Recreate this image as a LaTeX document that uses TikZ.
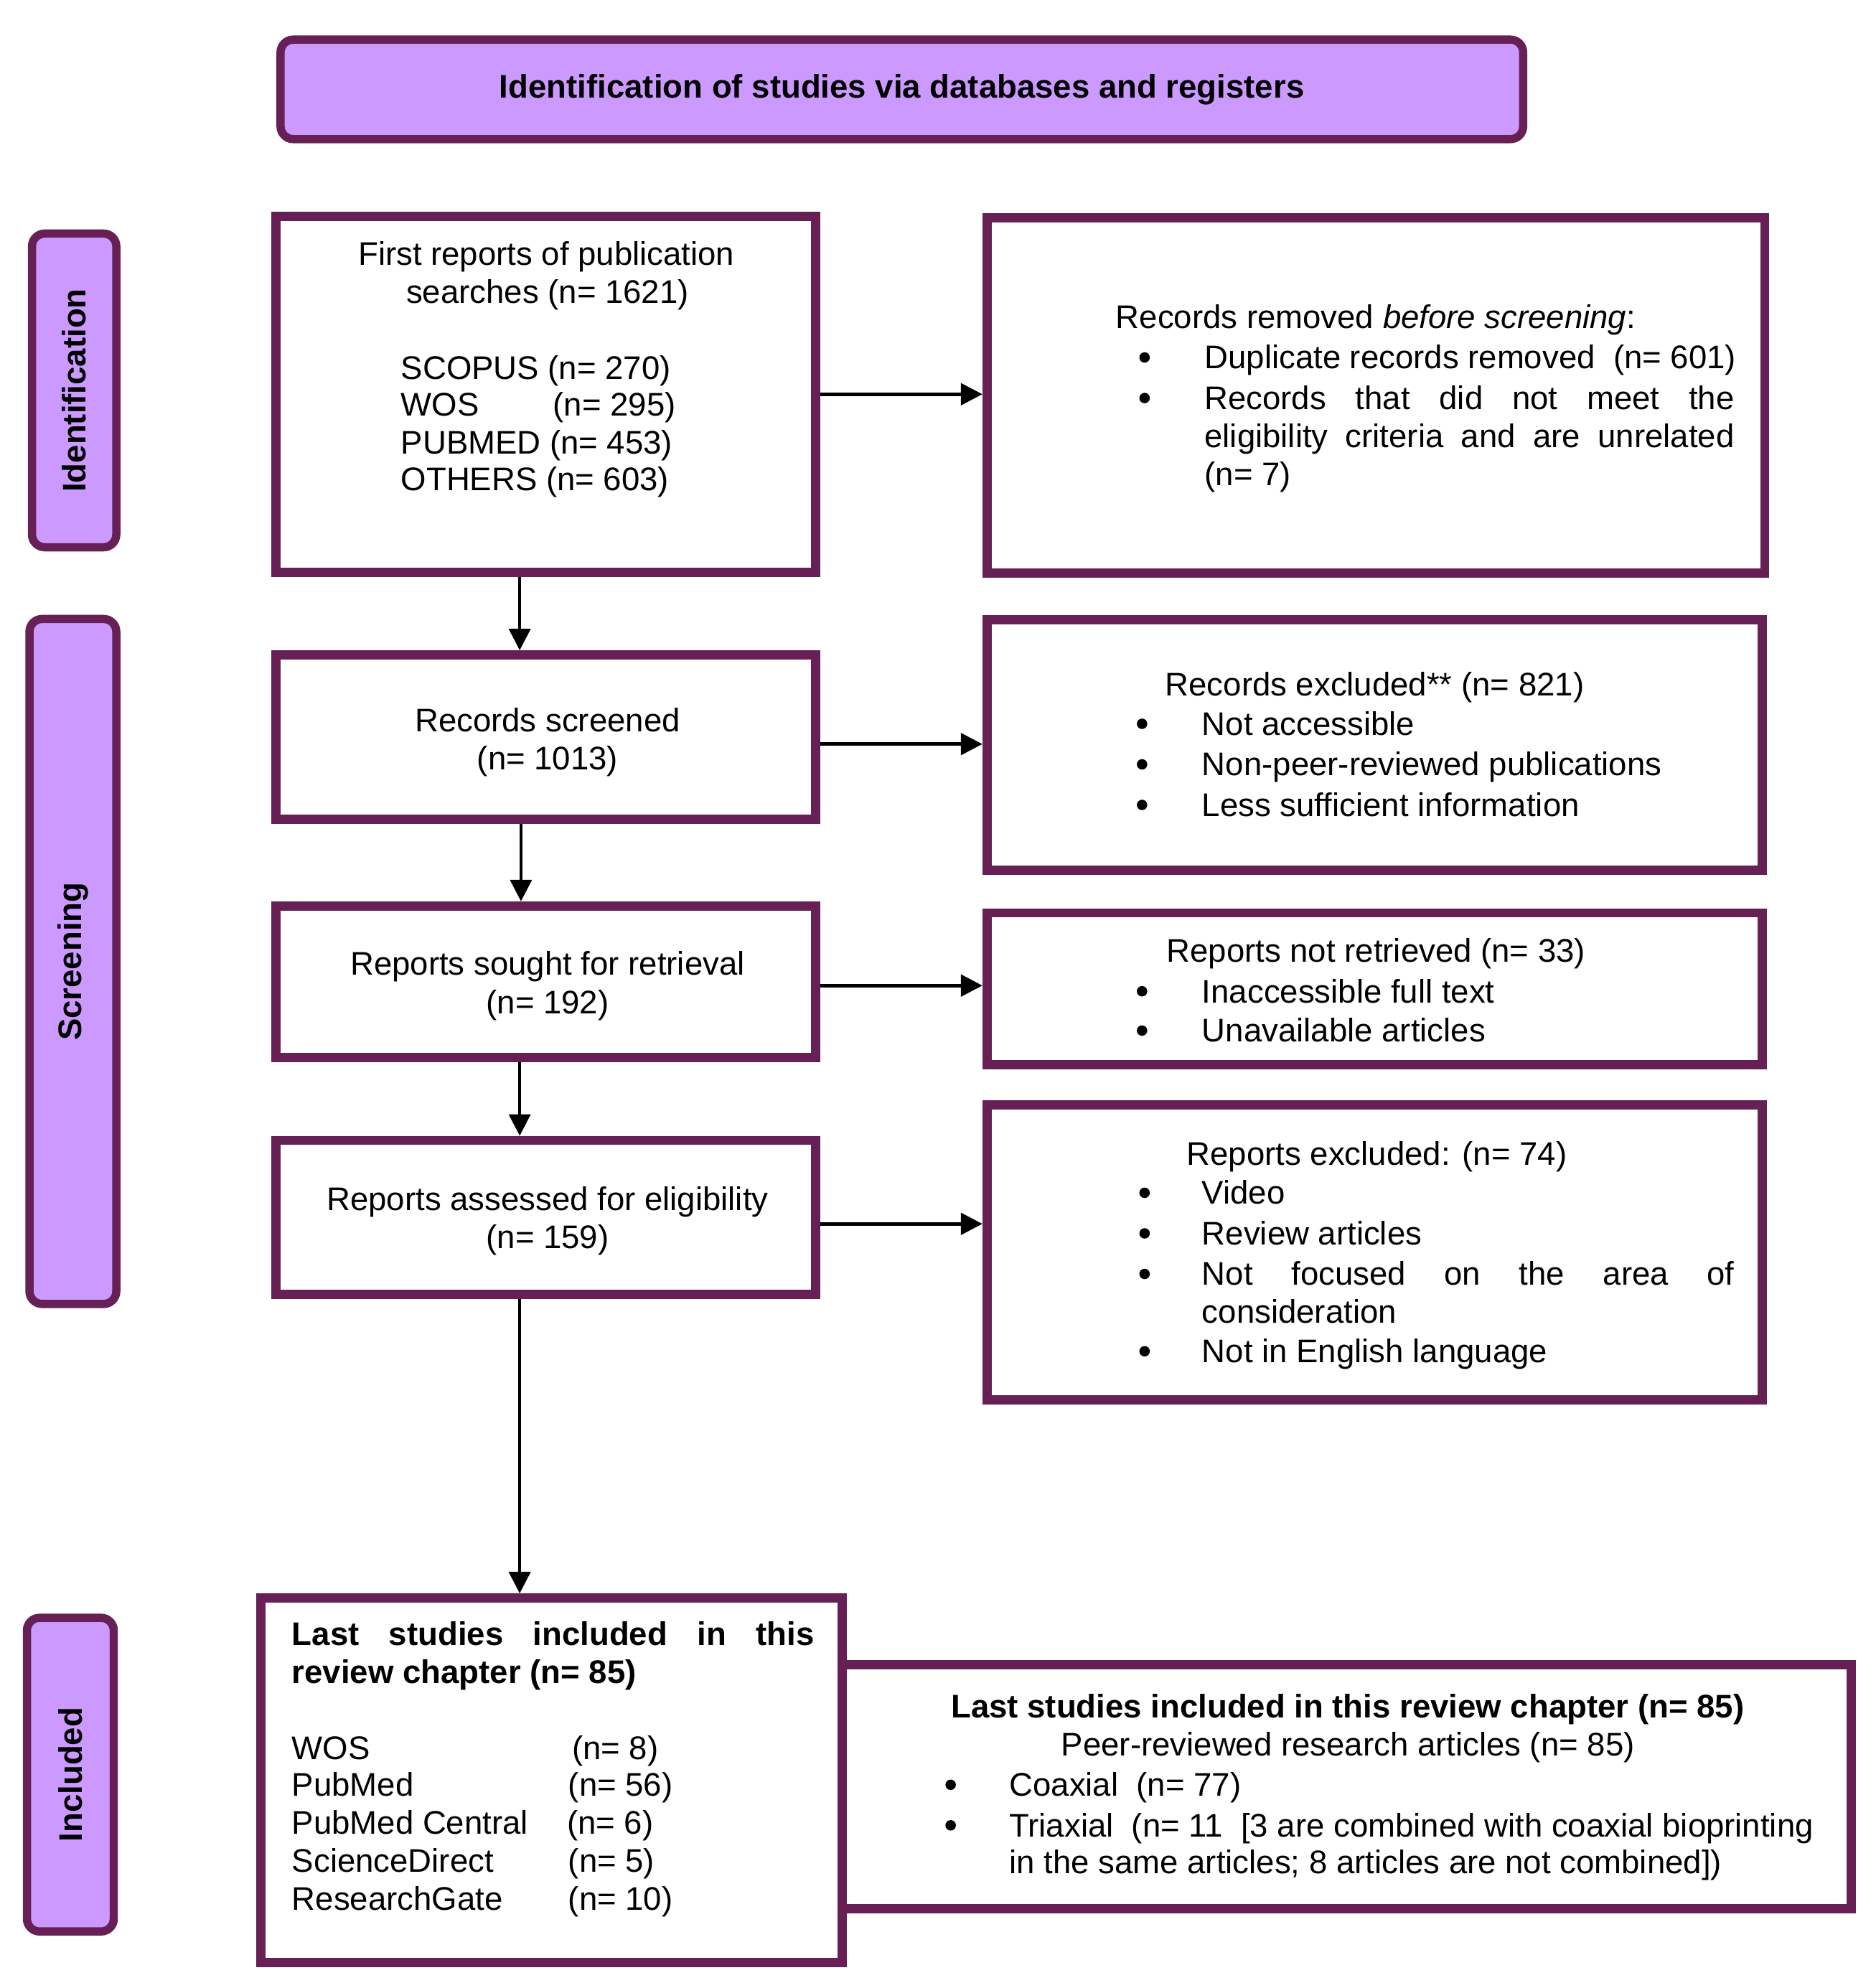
\documentclass[tikz,border=0pt]{standalone}
\usepackage{fontspec}
\setmainfont{Liberation Sans}
\usetikzlibrary{arrows.meta}
\definecolor{bord}{RGB}{102,32,85}
\definecolor{lav}{RGB}{204,153,255}
\newcommand\fs{\fontsize{14.68pt}{16.9pt}\selectfont}
\begin{document}
\begin{tikzpicture}[x=0.02cm,y=-0.02cm,
  box/.style={draw=bord, line width=4.15pt, rectangle, inner sep=0pt, fill=white},
  lab/.style={draw=bord, fill=lav, line width=3.7pt, rounded corners=0.2cm, inner sep=0pt, font=\fs\bfseries},
  txt/.style={inner sep=0pt, font=\fs},
  btxt/.style={inner sep=0pt, font=\fs\bfseries},
  dot/.style={circle, fill=black, inner sep=0pt, minimum size=0.165cm, yshift=0.18cm},
  harr/.style={draw=black, line width=1.55pt, -{Triangle[length=0.34cm,width=0.34cm]}},
  varr/.style={draw=black, line width=1.2pt, -{Triangle[length=0.34cm,width=0.34cm]}}]
\useasboundingbox (0,0) rectangle (1480,1564.4);

% headers and side labels
\node[lab, minimum width=19.61cm, minimum height=1.57cm] (title) at (711.5,70.5) {\raisebox{-0.05cm}{Identification of studies via databases and registers}};
\node[lab, minimum width=1.33cm, minimum height=4.95cm] (lid) at (58.5,308) {\rotatebox{90}{Identification}};
\node[lab, minimum width=1.37cm, minimum height=10.81cm] (lsc) at (57.5,758.5) {\rotatebox{90}{Screening}};
\node[lab, minimum width=1.37cm, minimum height=4.95cm] (lin) at (55.5,1400) {\rotatebox{90}{Included}};

% boxes
\node[box, minimum width=8.514cm, minimum height=5.614cm] (b1) at (430.5,311) {};
\node[box, minimum width=12.274cm, minimum height=5.614cm] (r1) at (1085.5,312) {};
\node[box, minimum width=8.514cm, minimum height=2.594cm] (b2) at (430.5,581.5) {};
\node[box, minimum width=12.234cm, minimum height=3.954cm] (r2) at (1084.5,587.5) {};
\node[box, minimum width=8.514cm, minimum height=2.394cm] (b3) at (430.5,774.5) {};
\node[box, minimum width=12.234cm, minimum height=2.394cm] (r3) at (1084.5,780) {};
\node[box, minimum width=8.514cm, minimum height=2.434cm] (b4) at (430.5,960.5) {};
\node[box, minimum width=12.234cm, minimum height=4.654cm] (r4) at (1084.5,988) {};
\node[box, minimum width=9.174cm, minimum height=5.754cm] (b5) at (435,1404.5) {};
\node[box, minimum width=15.914cm, minimum height=3.854cm] (b6) at (1062.5,1409.5) {};

% arrows
\draw[harr] (b1.east) -- (b1.east -| r1.west);
\coordinate (h2) at ([yshift=-0.11cm]b2.east);
\draw[harr] (h2) -- (h2 -| r2.west);
\coordinate (h3) at ([yshift=-0.06cm]b3.east);
\draw[harr] (h3) -- (h3 -| r3.west);
\coordinate (h4) at ([yshift=-0.1cm]b4.east);
\draw[harr] (h4) -- (h4 -| r4.west);
\coordinate (v1) at ([xshift=-0.41cm]b1.south);
\draw[varr] (v1) -- (v1 |- b2.north);
\coordinate (v2) at ([xshift=-0.39cm]b2.south);
\draw[varr] (v2) -- (v2 |- b3.north);
\coordinate (v3) at ([xshift=-0.41cm]b3.south);
\draw[varr] (v3) -- (v3 |- b4.north);
\coordinate (v4) at ([xshift=-0.41cm]b4.south);
\draw[varr] (v4) -- (v4 |- b5.north);

% box 1
\node[txt, anchor=base] (t1a) at (431,209) {First reports of publication};
\node[txt, anchor=base] (t1b) at (432,239) {searches (n= 1621)};
\node[txt, anchor=base west] (t1c) at (316,299) {SCOPUS (n= 270)};
\node[txt, anchor=base west] (t1d) at (316,328) {\makebox[2.4cm][l]{WOS}(n= 295)};
\node[txt, anchor=base west] (t1e) at (316,358) {PUBMED (n= 453)};
\node[txt, anchor=base west] (t1f) at (316,387) {OTHERS (n= 603)};

% right box 1
\node[txt, anchor=base west] (s1h) at (880,259) {Records removed \textit{before screening}:};
\node[dot] (s1b1) at (903,291) {};
\node[dot] (s1b2) at (903,323) {};
\node[txt, anchor=base west] (s1i1) at (950,291) {Duplicate records removed~~(n= 601)};
\node[txt, anchor=base west] (s1i2) at (950,323) {\makebox[8.36cm][s]{Records that did not meet the}};
\node[txt, anchor=base west] (s1i3) at (950,353) {\makebox[8.36cm][s]{eligibility criteria and are unrelated}};
\node[txt, anchor=base west] (s1i4) at (950,383) {(n= 7)};

% box 2
\node[txt, anchor=base] (t2a) at (432,577) {Records screened};
\node[txt, anchor=base] (t2b) at (432,607) {(n= 1013)};
\node[txt, anchor=base west] (s2h) at (919,549) {Records excluded** (n= 821)};
\node[dot] (s2b1) at (901,580) {};
\node[dot] (s2b2) at (901,612) {};
\node[dot] (s2b3) at (901,644) {};
\node[txt, anchor=base west] (s2i1) at (948,580) {Not accessible};
\node[txt, anchor=base west] (s2i2) at (948,612) {Non-peer-reviewed publications};
\node[txt, anchor=base west] (s2i3) at (948,644) {Less sufficient information};

% box 3
\node[txt, anchor=base] (t3a) at (432,769) {Reports sought for retrieval};
\node[txt, anchor=base] (t3b) at (432,800) {(n= 192)};
\node[txt, anchor=base west] (s3h) at (920,759) {Reports not retrieved (n= 33)};
\node[dot] (s3b1) at (901,791) {};
\node[dot] (s3b2) at (901,822) {};
\node[txt, anchor=base west] (s3i1) at (948,791) {Inaccessible full text};
\node[txt, anchor=base west] (s3i2) at (948,822) {Unavailable articles};

% box 4
\node[txt, anchor=base] (t4a) at (432,955) {Reports assessed for eligibility};
\node[txt, anchor=base] (t4b) at (432,985) {(n= 159)};
\node[txt, anchor=base west] (s4h) at (936,919) {Reports excluded: (n= 74)};
\node[dot] (s4b1) at (903,950) {};
\node[dot] (s4b2) at (903,982) {};
\node[dot] (s4b3) at (903,1014) {};
\node[dot] (s4b4) at (903,1075) {};
\node[txt, anchor=base west] (s4i1) at (948,950) {Video};
\node[txt, anchor=base west] (s4i2) at (948,982) {Review articles};
\node[txt, anchor=base west] (s4i3) at (948,1014) {\makebox[8.4cm][s]{Not focused on the area of}};
\node[txt, anchor=base west] (s4i4) at (948,1044) {consideration};
\node[txt, anchor=base west] (s4i5) at (948,1075) {Not in English language};

% box 5
\node[btxt, anchor=base west] (t5a) at (230,1298) {\makebox[8.24cm][s]{Last studies included in this}};
\node[btxt, anchor=base west] (t5b) at (230,1328) {review chapter (n= 85)};
\node[txt, anchor=base west] (t5c) at (230,1388) {WOS};
\node[txt, anchor=base west] (t5d) at (230,1417) {PubMed};
\node[txt, anchor=base west] (t5e) at (230,1447) {PubMed Central};
\node[txt, anchor=base west] (t5f) at (230,1477) {ScienceDirect};
\node[txt, anchor=base west] (t5g) at (230,1507) {ResearchGate};
\node[txt, anchor=base west] (n5c) at (451,1388) {(n= 8)};
\node[txt, anchor=base west] (n5d) at (448,1417) {(n= 56)};
\node[txt, anchor=base west] (n5e) at (447,1447) {(n= 6)};
\node[txt, anchor=base west] (n5f) at (448,1477) {(n= 5)};
\node[txt, anchor=base west] (n5g) at (448,1507) {(n= 10)};

% box 6
\node[btxt, anchor=base west] (t6a) at (750,1355) {Last studies included in this review chapter (n= 85)};
\node[txt, anchor=base west] (t6b) at (837,1385) {Peer-reviewed research articles (n= 85)};
\node[dot] (s6b1) at (750,1417) {};
\node[dot] (s6b2) at (750,1449) {};
\node[txt, anchor=base west] (s6i1) at (796,1417) {Coaxial~~(n= 77)};
\node[txt, anchor=base west] (s6i2) at (796,1449) {Triaxial~~(n= 11~~[3 are combined with coaxial bioprinting};
\node[txt, anchor=base west] (s6i3) at (796,1478) {in the same articles; 8 articles are not combined])};
\end{tikzpicture}
\end{document}
